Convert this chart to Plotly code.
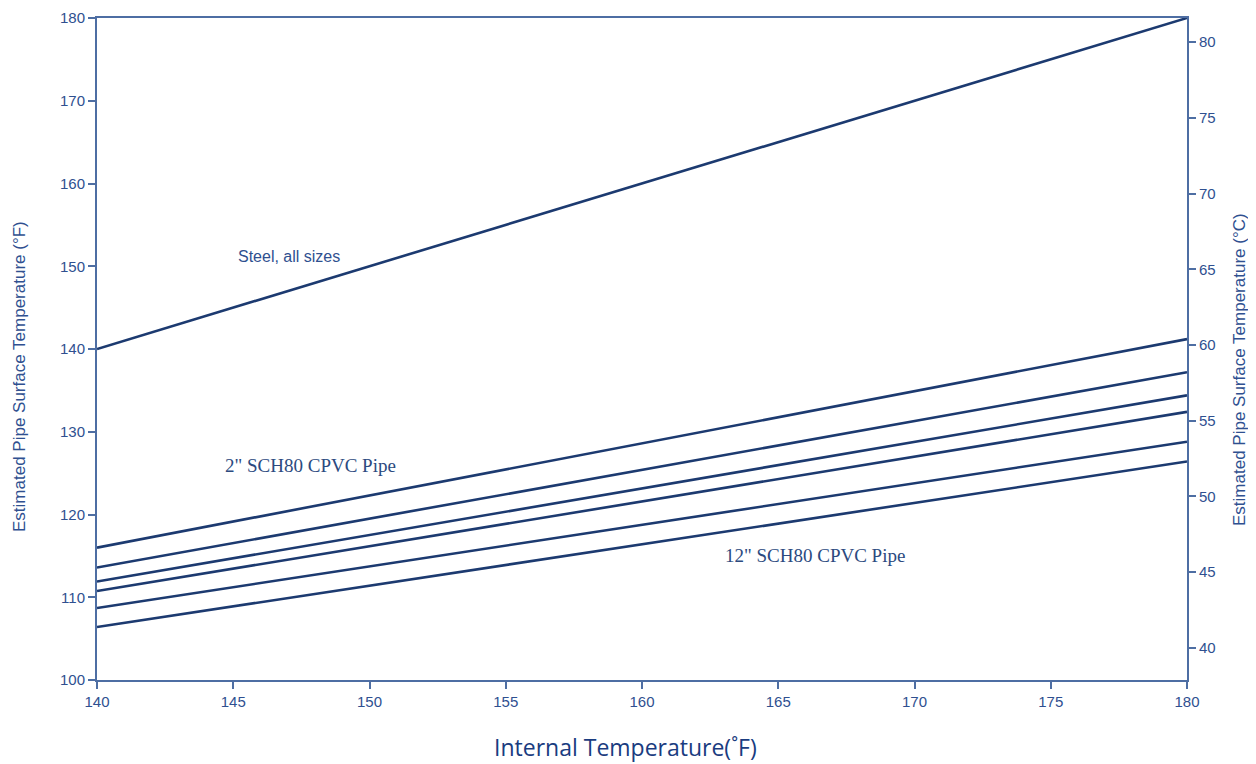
import plotly.graph_objects as go

x_ends = [140, 180]
steel = [140, 180]
cpvc_start = [116.0, 113.6, 111.9, 110.75, 108.7, 106.4]
cpvc_end = [141.2, 137.2, 134.4, 132.4, 128.8, 126.4]
x_ticks = [140, 145, 150, 155, 160, 165, 170, 175, 180]
yF_ticks = [100, 110, 120, 130, 140, 150, 160, 170, 180]
yC_ticks = [40, 45, 50, 55, 60, 65, 70, 75, 80]

line_col = "#1c3a70"
axis_col = "#4e6ea3"
text_col = "#2f5090"
narrow = "Liberation Sans Narrow, Arial Narrow, Liberation Sans, Arial"
serif = "Liberation Serif, Times New Roman, serif"

fig = go.Figure()
fig.add_trace(go.Scatter(x=x_ends, y=steel, mode="lines",
                         line=dict(color=line_col, width=2.6), showlegend=False, hoverinfo="skip"))
for s, e in zip(cpvc_start, cpvc_end):
    fig.add_trace(go.Scatter(x=x_ends, y=[s, e], mode="lines",
                             line=dict(color=line_col, width=2.6), showlegend=False, hoverinfo="skip"))
fig.add_trace(go.Scatter(x=[140], y=[40], yaxis="y2", mode="markers",
                         marker=dict(opacity=0), showlegend=False, hoverinfo="skip"))

fig.add_annotation(x=147.05, y=151.2, text="Steel, all sizes", showarrow=False,
                   font=dict(family=narrow, size=16, color=text_col))
fig.add_annotation(x=147.85, y=125.9, text="2\" SCH80 CPVC Pipe", showarrow=False,
                   font=dict(family=serif, size=19, color="#2c4a80"))
fig.add_annotation(x=166.35, y=115.1, text="12\" SCH80 CPVC Pipe", showarrow=False,
                   font=dict(family=serif, size=19, color="#2c4a80"))

# axis titles
fig.add_annotation(xref="paper", yref="paper", x=0, y=0.5, xshift=-78, yshift=-28,
                   xanchor="center", yanchor="middle", textangle=-90,
                   text="Estimated Pipe Surface Temperature (°F)", showarrow=False,
                   font=dict(family=narrow, size=17, color=text_col))
fig.add_annotation(xref="paper", yref="paper", x=1, y=0.5, xshift=52, yshift=-21,
                   xanchor="center", yanchor="middle", textangle=-90,
                   text="Estimated Pipe Surface Temperature (°C)", showarrow=False,
                   font=dict(family=narrow, size=17, color=text_col))
fig.add_annotation(xref="paper", yref="paper", x=0.5, y=0, xshift=-17, yshift=-67,
                   xanchor="center", yanchor="middle", text="Internal Temperature(˚F)", showarrow=False,
                   font=dict(family="Open Sans, Noto Sans, sans-serif", size=23, color="#1a3c80"))

axis_common = dict(showgrid=False, zeroline=False, showline=True, linecolor=axis_col, linewidth=2,
                   ticks="outside", ticklen=7, tickcolor=axis_col, tickwidth=1.5, automargin=False,
                   tickfont=dict(family=narrow, size=15, color=text_col))

fig.update_layout(
    width=1248, height=756,
    margin=dict(l=89, r=69, t=10, b=84, autoexpand=False),
    plot_bgcolor="white", paper_bgcolor="white",
    xaxis=dict(range=[140, 180], tickvals=x_ticks, mirror=True, **axis_common),
    yaxis=dict(range=[100, 180], tickvals=yF_ticks, **axis_common),
    yaxis2=dict(range=[37.87, 81.6], tickvals=yC_ticks, overlaying="y", side="right", **axis_common),
)

fig.write_html("out.html")
